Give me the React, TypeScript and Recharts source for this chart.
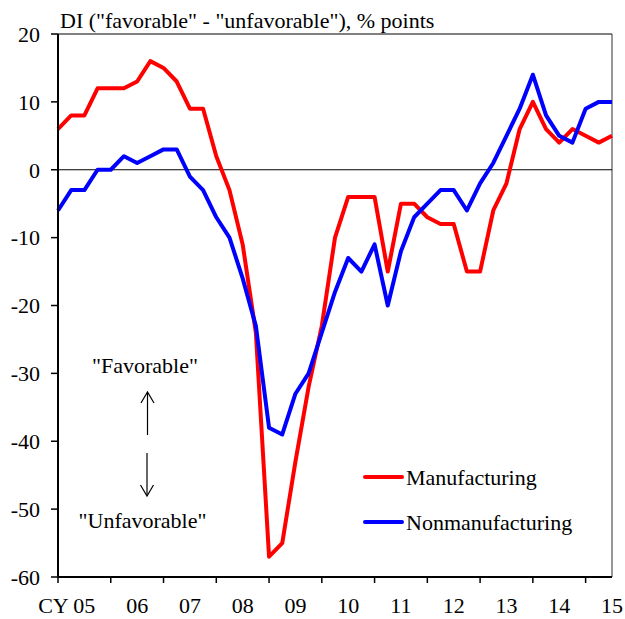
import React from 'react'
import { LineChart, Line, XAxis, YAxis, ReferenceLine } from 'recharts'

// quarterly DI, CY2005 Q1 .. CY2015 Q3
const manufacturing = [
  6, 8, 8, 12, 12, 12, 13, 16, 15, 13, 9, 9,
  2, -3, -11, -24, -57, -55, -43, -32, -23, -10, -4, -4,
  -4, -15, -5, -5, -7, -8, -8, -15, -15, -6, -2, 6,
  10, 6, 4, 6, 5, 4, 5,
]
const nonmanufacturing = [
  -6, -3, -3, 0, 0, 2, 1, 2, 3, 3, -1, -3,
  -7, -10, -16, -23, -38, -39, -33, -30, -24, -18, -13, -15,
  -11, -20, -12, -7, -5, -3, -3, -6, -2, 1, 5, 9,
  14, 8, 5, 4, 9, 10, 10,
]
const yearLabels = ['CY 05', '06', '07', '08', '09', '10', '11', '12', '13', '14', '15']
const yTicks = [-60, -50, -40, -30, -20, -10, 0, 10, 20]
const series = [
  { key: 'manufacturing', name: 'Manufacturing', color: '#ff0000' },
  { key: 'nonmanufacturing', name: 'Nonmanufacturing', color: '#0000ff' },
]

const data = manufacturing.map((m, i) => ({ q: i, manufacturing: m, nonmanufacturing: nonmanufacturing[i] }))

const W = 625
const H = 619
const LEFT = 58
const RIGHT = 13
const FONT = '"Liberation Serif", "Times New Roman", serif'
const STEP = (W - LEFT - RIGHT) / (data.length - 1)

const XTick = (props: any) => {
  const { x, y, payload } = props
  const idx = payload.value / 4
  const label = yearLabels[idx]
  const cx = x + STEP * 2
  const first = idx === 0
  return (
    <text
      x={first ? cx + 11 : cx}
      y={y}
      dy={28}
      textAnchor={first ? 'end' : 'middle'}
      fontFamily={FONT}
      fontSize={22}
      fill="#000"
    >
      {label}
    </text>
  )
}

export default function App() {
  return (
    <div style={{ position: 'absolute', left: 0, top: 0, width: W, height: H, background: '#fff' }}>
      <LineChart width={W} height={H} data={data} margin={{ top: 34, right: RIGHT, left: 0, bottom: 0 }}>
        <XAxis
          dataKey="q"
          type="number"
          domain={[0, data.length - 1]}
          ticks={[0, 4, 8, 12, 16, 20, 24, 28, 32, 36, 40]}
          height={42}
          tickSize={6}
          tickMargin={2}
          axisLine={{ stroke: '#000', strokeWidth: 2 }}
          tickLine={{ stroke: '#000', strokeWidth: 1.5 }}
          tick={<XTick />}
          interval={0}
        />
        <YAxis
          type="number"
          domain={[-60, 20]}
          ticks={yTicks}
          width={LEFT}
          tickSize={7}
          tickMargin={11}
          axisLine={{ stroke: '#000', strokeWidth: 2 }}
          tickLine={{ stroke: '#000', strokeWidth: 1.5 }}
          tick={{ fill: '#000', fontSize: 22, fontFamily: FONT }}
          interval={0}
        />
        <ReferenceLine y={20} stroke="#000" strokeWidth={1} />
        <ReferenceLine x={data.length - 1} stroke="#333" strokeWidth={1} />
        <ReferenceLine y={0} stroke="#000" strokeWidth={1} />
        {series.map((s) => (
          <Line
            key={s.key}
            type="linear"
            dataKey={s.key}
            name={s.name}
            stroke={s.color}
            strokeWidth={4}
            strokeLinejoin="round"
            dot={false}
            activeDot={false}
            isAnimationActive={false}
          />
        ))}
      </LineChart>
      <svg
        width={W}
        height={H}
        style={{ position: 'absolute', left: 0, top: 0, pointerEvents: 'none' }}
        fontFamily={FONT}
        fontSize={22}
      >
        <text x={60} y={28} fill="#000">
          DI ("favorable" - "unfavorable"), % points
        </text>
        <text x={145} y={373} textAnchor="middle" fill="#000">"Favorable"</text>
        <line x1={147.5} y1={393} x2={147.5} y2={435} stroke="#000" strokeWidth={1.2} />
        <polyline points="141,403 147.5,392 154,403" fill="none" stroke="#000" strokeWidth={1.2} />
        <line x1={147} y1={453} x2={147} y2={495} stroke="#000" strokeWidth={1.2} />
        <polyline points="140.5,485 147,496 153.5,485" fill="none" stroke="#000" strokeWidth={1.2} />
        <text x={142.5} y={528} textAnchor="middle" fill="#000">"Unfavorable"</text>
        {series.map((s, i) => (
          <g key={s.key}>
            <line x1={365} x2={402} y1={477 + i * 45} y2={477 + i * 45} stroke={s.color} strokeWidth={4} strokeLinecap="round" />
            <text x={406} y={485 + i * 45} fill="#000">{s.name}</text>
          </g>
        ))}
      </svg>
    </div>
  )
}
